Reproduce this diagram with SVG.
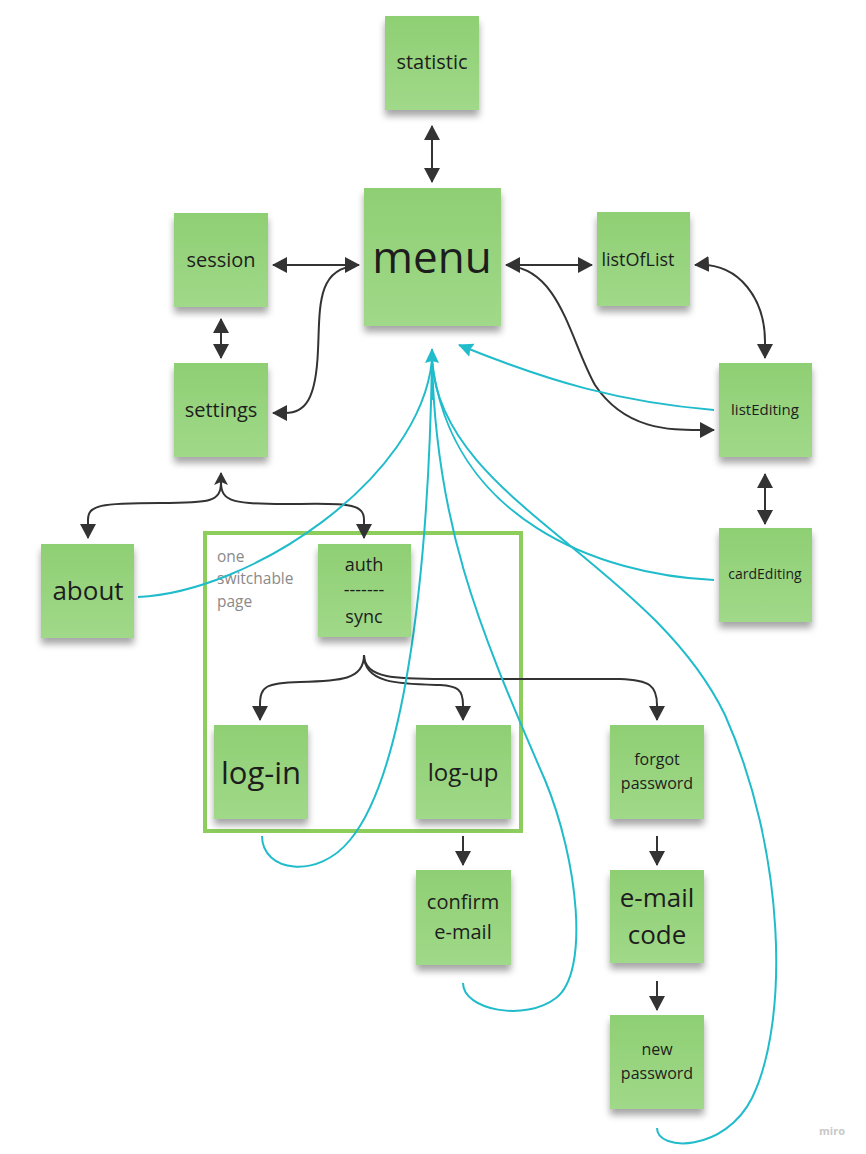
<svg xmlns="http://www.w3.org/2000/svg" width="866" height="1154" viewBox="0 0 866 1154">
<style>
.n{fill:url(#g);filter:url(#sh)}
.t{font-family:"Open Sans","Liberation Sans",sans-serif;fill:#1d1d1d;text-anchor:middle}
.d{fill:none;stroke:#333;stroke-width:2}
.c{fill:none;stroke:#21bccb;stroke-width:2}
.f{font-family:"Open Sans","Liberation Sans",sans-serif;font-size:15.5px;fill:#8a8a8a}
</style>
<defs>
<linearGradient id="g" x1="0" y1="0" x2="0" y2="1">
<stop offset="0" stop-color="#8fcf73"/><stop offset="1" stop-color="#a0d989"/>
</linearGradient>
<filter id="sh" x="-20%" y="-20%" width="140%" height="150%">
<feDropShadow dx="0" dy="6" stdDeviation="3.5" flood-color="#000" flood-opacity="0.35"/>
</filter>
<marker id="a" markerUnits="userSpaceOnUse" markerWidth="18" markerHeight="18" refX="14" refY="8" orient="auto-start-reverse">
<path d="M0,0 L15,8 L0,16 Z" fill="#333"/>
</marker>
<marker id="as" markerUnits="userSpaceOnUse" markerWidth="16" markerHeight="16" refX="12" refY="7" orient="auto-start-reverse">
<path d="M0,0 L13,7 L0,14 L3,7 Z" fill="#333"/>
</marker>
<marker id="ac" markerUnits="userSpaceOnUse" markerWidth="18" markerHeight="18" refX="14" refY="8" orient="auto">
<path d="M0,1 L15,8 L0,15 L2,8 Z" fill="#21bccb"/>
</marker>
</defs>
<rect width="866" height="1154" fill="#fff"/>

<g id="frame">
<rect x="205" y="533" width="316" height="298" fill="none" stroke="#8ccd5c" stroke-width="4"/>
<text class="f" x="217" y="562">one</text>
<text class="f" x="217" y="584">switchable</text>
<text class="f" x="217" y="607">page</text>
</g>

<g id="connectors">
<path class="d" d="M432,126 L432,182" marker-start="url(#a)" marker-end="url(#a)"/>
<path class="d" d="M273,265 L359,265" marker-start="url(#a)" marker-end="url(#a)"/>
<path class="d" d="M356,266 C316,268 320,310 318,350 C316,400 305,413 285,413 L273,413" marker-end="url(#a)"/>
<path class="d" d="M221,319 L221,358" marker-start="url(#a)" marker-end="url(#a)"/>
<path class="d" d="M506,265 L592,265" marker-start="url(#a)" marker-end="url(#a)"/>
<path class="d" d="M509,266 C560,270 570,340 595,385 C625,430 670,430 700,430 L714,430" marker-end="url(#a)"/>
<path class="d" d="M695,265 C740,262 766,300 765,345 L765,358" marker-start="url(#a)" marker-end="url(#a)"/>
<path class="d" d="M765,474 L765,524" marker-start="url(#a)" marker-end="url(#a)"/>
<path class="d" d="M221,473 L221,482 C221,502 210,503 160,503 C100,503 88,505 88,520 L88,538" marker-start="url(#as)" marker-end="url(#a)"/>
<path class="d" d="M221,482 C221,502 232,505 300,504 C352,503 364,505 364,520 L364,538" marker-end="url(#a)"/>
<path class="d" d="M364,655 C364,680 340,681 300,682 C266,683 260,686 260,705 L260,720" marker-end="url(#a)"/>
<path class="d" d="M364,655 C364,684 400,684 440,685 C458,686 463,690 463,705 L463,720" marker-end="url(#a)"/>
<path class="d" d="M364,655 C364,680 400,679 450,679 L620,679 C650,680 657,686 657,705 L657,720" marker-end="url(#a)"/>
<path class="d" d="M463,836 L463,865" marker-end="url(#a)"/>
<path class="d" d="M657,836 L657,865" marker-end="url(#a)"/>
<path class="d" d="M657,981 L657,1010" marker-end="url(#a)"/>

<path class="c" d="M138,597 C250,592 420,480 432,360"/>
<path class="c" d="M262,836 C262,872 318,880 350,840 C400,780 428,600 432,360"/>
<path class="c" d="M463,983 C463,1010 525,1022 556,998 C590,972 578,860 545,780 C475,620 436,520 432,360"/>
<path class="c" d="M714,580 C600,575 450,520 432,360"/>
<path class="c" d="M657,1128 C657,1152 725,1152 752,1098 C790,1020 785,850 725,715 C650,560 440,500 432,360"/>
<path class="c" d="M432,400 L432,349" marker-end="url(#ac)"/>
<path class="c" d="M714,410 C620,402 550,382 459,345" marker-end="url(#ac)"/>
</g>

<g id="statistic"><rect class="n" x="385" y="16" width="94" height="94"/><text class="t" x="432" y="69" font-size="20">statistic</text></g>
<g id="menu"><rect class="n" x="364" y="188" width="137" height="138"/><text class="t" x="432" y="273" font-size="44">menu</text></g>
<g id="session"><rect class="n" x="174" y="213" width="94" height="94"/><text class="t" x="221" y="267" font-size="20">session</text></g>
<g id="listOfList"><rect class="n" x="597" y="212" width="93" height="94"/><text class="t" x="638" y="266" font-size="18">listOfList</text></g>
<g id="settings"><rect class="n" x="174" y="363" width="94" height="94"/><text class="t" x="221" y="417" font-size="20">settings</text></g>
<g id="listEditing"><rect class="n" x="719" y="363" width="93" height="94"/><text class="t" x="765" y="415" font-size="15">listEditing</text></g>
<g id="about"><rect class="n" x="41" y="544" width="93" height="94"/><text class="t" x="88" y="600" font-size="26">about</text></g>
<g id="auth"><rect class="n" x="318" y="544" width="93" height="93"/>
<text class="t" x="364" y="571" font-size="18">auth</text>
<text class="t" x="364" y="596" font-size="18">-------</text>
<text class="t" x="364" y="623" font-size="18">sync</text></g>
<g id="cardEditing"><rect class="n" x="719" y="528" width="93" height="94"/><text class="t" x="765" y="579" font-size="14">cardEditing</text></g>
<g id="log-in"><rect class="n" x="214" y="725" width="94" height="94"/><text class="t" x="261" y="784" font-size="31">log-in</text></g>
<g id="log-up"><rect class="n" x="416" y="725" width="95" height="94"/><text class="t" x="463" y="781" font-size="24">log-up</text></g>
<g id="forgot"><rect class="n" x="610" y="725" width="94" height="94"/>
<text class="t" x="657" y="765" font-size="16">forgot</text>
<text class="t" x="657" y="789" font-size="16">password</text></g>
<g id="confirm"><rect class="n" x="416" y="870" width="95" height="95"/>
<text class="t" x="463" y="909" font-size="20">confirm</text>
<text class="t" x="463" y="939" font-size="20">e-mail</text></g>
<g id="emailcode"><rect class="n" x="610" y="870" width="94" height="93"/>
<text class="t" x="657" y="907" font-size="26">e-mail</text>
<text class="t" x="657" y="944" font-size="26">code</text></g>
<g id="newpassword"><rect class="n" x="610" y="1015" width="94" height="94"/>
<text class="t" x="657" y="1055" font-size="16">new</text>
<text class="t" x="657" y="1079" font-size="16">password</text></g>

<text x="845" y="1135" font-family="Open Sans,Liberation Sans,sans-serif" font-size="11" font-weight="bold" fill="#c8c8c8" text-anchor="end">miro</text>
</svg>
